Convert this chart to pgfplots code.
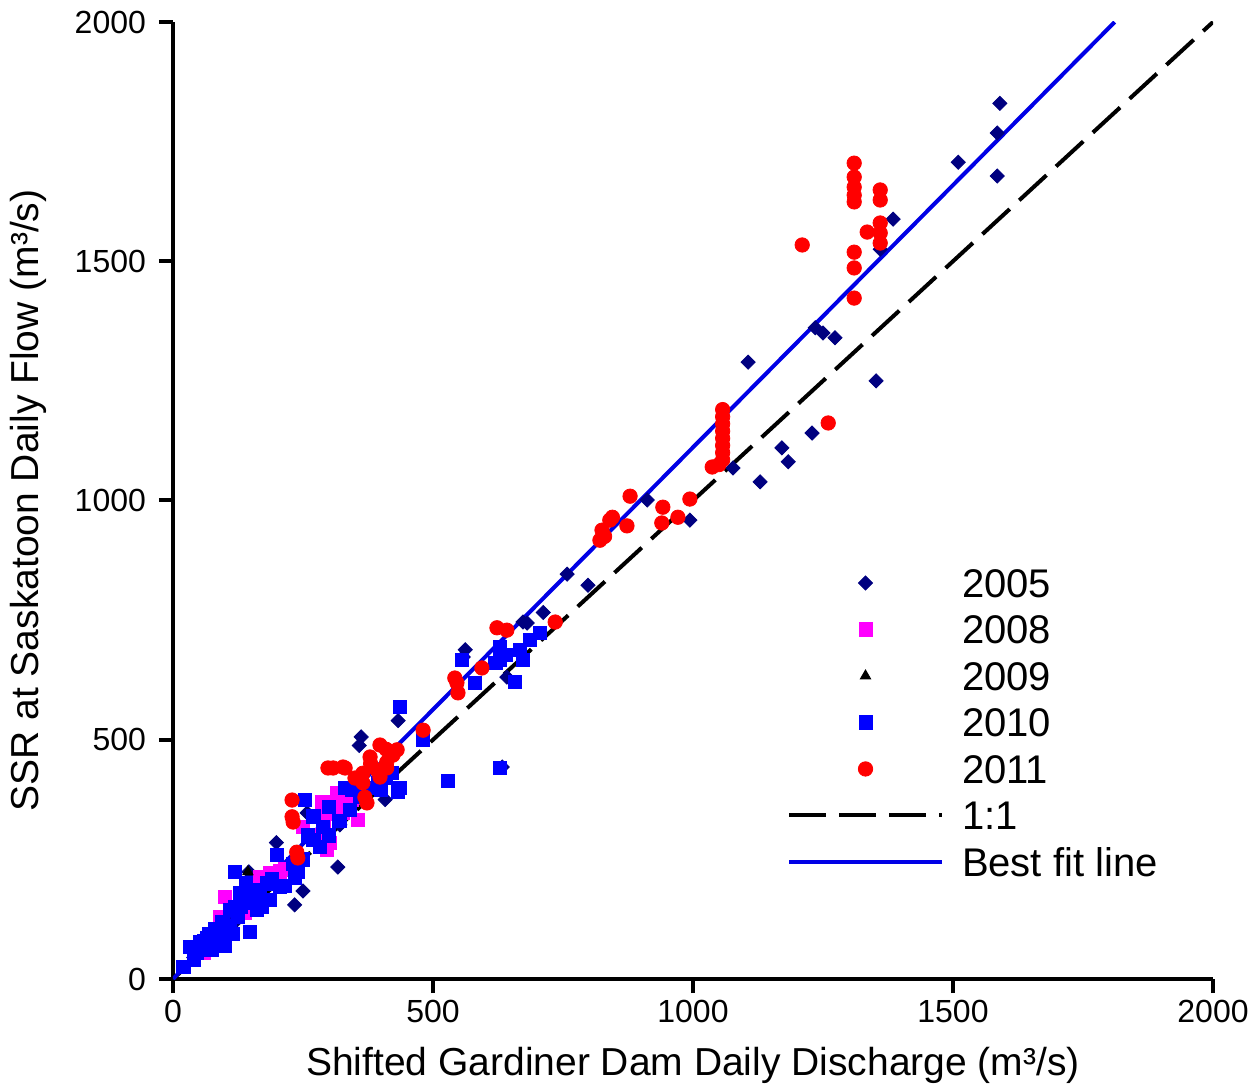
\documentclass[border=0pt]{standalone}
\usepackage{fontspec}
\setmainfont{Liberation Sans}
\usepackage{pgfplots}
\pgfplotsset{compat=1.18}
\definecolor{cNavy}{RGB}{0,0,128}
\definecolor{cMag}{RGB}{255,0,255}
\definecolor{cBlue}{RGB}{0,0,255}
\definecolor{cRed}{RGB}{255,0,0}
\definecolor{cFit}{RGB}{0,0,230}
\pgfplotsset{myleg/.style={legend image code/.code={\draw[mark repeat=2,mark phase=2,##1] plot coordinates {(0pt,0pt) (38.25pt,0pt) (76.5pt,0pt)};}}}
\begin{document}
\begin{tikzpicture}
\useasboundingbox (-86.5pt,-53.5pt) rectangle (541.5pt,489.5pt);
\begin{axis}[
  at={(0pt,0pt)}, anchor=south west,
  scale only axis, width=520pt, height=478.5pt,
  xmin=0, xmax=2000, ymin=0, ymax=2000,
  axis lines*=left,
  axis line style={line width=2pt},
  xtick={0,500,...,2000}, ytick={0,500,...,2000},
  tick align=outside, major tick length=7pt,
  tick style={line width=2pt, black},
  /pgf/number format/assume math mode=true,
  /pgf/number format/1000 sep={},
  ticklabel style={font=\fontsize{16}{19}\selectfont},
  yticklabel style={xshift=-3pt},
  xlabel={Shifted Gardiner Dam Daily Discharge (m³/s)},
  ylabel={SSR at Saskatoon Daily Flow (m³/s)},
  label style={font=\fontsize{19.5}{23}\selectfont},
  x label style={at={(axis description cs:0.5,-0.09)}, anchor=center},
  y label style={at={(axis description cs:-0.139,0.5)}, anchor=center},
  legend style={at={(0.5904,0.429)}, anchor=north west, draw=none, fill=none,
    inner sep=0pt, outer sep=0pt, row sep=8.75pt, column sep=9pt,
    font=\fontsize{20}{24}\selectfont,
    nodes={inner sep=0pt, text height=14.5pt, text depth=0pt}},
  legend cell align=left,
]
% 2005
\addplot[only marks, mark=square*, mark size=2.5pt, color=cNavy, mark options={rotate=45}, myleg] coordinates {
(1590,1830) (1585,1768) (1585,1678) (1510,1707) (1385,1588) (1360,1525) (1352,1250)
(1106,1289) (1235,1361) (1250,1350) (1273,1340) (1229,1141) (1171,1110) (1183,1081)
(1077,1068) (1129,1039) (994,959) (912,1001) (798,823) (758,846) (712,766) (681,744)
(673,746) (562,688) (558,673) (642,631) (633,443) (433,540) (362,506) (358,488)
(408,375) (317,234) (250,184) (234,155) (199,285) (146,224) (258,347) (321,322)
(60,70) (80,85) (100,110) (40,45) (120,120) (90,75)
};
\addlegendentry{2005}
% 2008
\addplot[only marks, mark=square*, mark size=3.3pt, color=cMag, myleg] coordinates {
(288,359) (308,359) (327,347) (356,332) (302,284) (296,270) (187,221) (167,213)
(148,192) (100,171) (90,130) (269,339) (250,318) (344,374) (315,389) (138,138)
(280,300) (320,350) (60,55) (75,70) (200,215) (290,330) (310,370) (330,375) (215,230)
(287,370) (315,380) (300,345) (335,360) (205,225)
};
\addlegendentry{2008}
% 2009
\addplot[only marks, mark=triangle*, mark size=3pt, color=black, myleg] coordinates {
(104,107) (100,100) (144,224) (60,60)
};
\addlegendentry{2009}
% 2010
\addplot[only marks, mark=square*, mark size=3.3pt, color=cBlue, myleg] coordinates {
(437,568) (481,499) (581,619) (658,621) (529,414) (437,399) (433,391) (629,694)
(640,677) (629,667) (706,723) (687,708) (667,688) (673,667) (620,660) (556,667)
(629,441) (119,224) (254,374) (288,318) (283,276) (235,211) (148,98) (200,259)
(167,186) (129,180) (110,144) (52,77) (71,88) (90,96) (33,67) (187,165) (162,144)
(340,353) (206,192) (150,160) (140,200) (180,200) (160,170) (120,150) (230,240)
(260,300) (300,300) (320,330) (270,340) (60,60) (80,75) (95,85) (45,55) (70,95)
(90,80) (100,70) (40,40) (20,25) (250,250) (380,400) (400,395) (420,430) (360,380)
(300,360) (330,400) (60,80) (55,65) (85,100) (75,60)
(110,110) (125,130) (100,90) (65,85) (80,105) (95,120) (115,95) (130,150) (145,175)
(170,150) (190,210) (215,195) (240,225) (270,290) (345,395) (395,410) (410,420)
};
\addlegendentry{2010}
% 2011
\addplot[only marks, mark=*, mark size=3.6pt, color=cRed, myleg] coordinates {
(1310,1705) (1310,1676) (1310,1655) (1310,1638) (1310,1624) (1310,1519) (1310,1486)
(1310,1423) (1360,1649) (1360,1628) (1360,1580) (1360,1559) (1360,1538) (1335,1561)
(1210,1534) (1260,1162)
(1057,1190) (1057,1175) (1057,1160) (1057,1145) (1057,1130) (1057,1115) (1057,1100)
(1057,1085) (1037,1070) (1050,1075)
(821,917) (825,938) (840,959) (873,947) (879,1009) (942,986) (940,953) (971,965)
(994,1003) (830,925) (845,965)
(623,734) (642,729) (594,650) (542,629) (546,619) (548,598) (481,520) (735,746)
(398,489) (431,479) (379,464) (331,441) (308,441) (411,453) (365,430) (392,437)
(423,468) (229,374) (229,339) (231,328) (238,265) (240,253) (298,441) (327,443)
(365,410) (369,380) (373,368) (398,422) (411,441) (420,470) (350,420) (380,450) (410,480)
};
\addlegendentry{2011}
% 1:1
\addplot[black, line width=2pt, dash pattern=on 18.5pt off 6.5pt, mark=none, myleg] coordinates {(0,0) (2000,2000)};
\addlegendentry{1:1}
% best fit
\addplot[cFit, line width=2pt, mark=none, myleg] coordinates {(0,0) (436,493) (1811,2000)};
\addlegendentry{Best fit line}
\end{axis}
\end{tikzpicture}
\end{document}
